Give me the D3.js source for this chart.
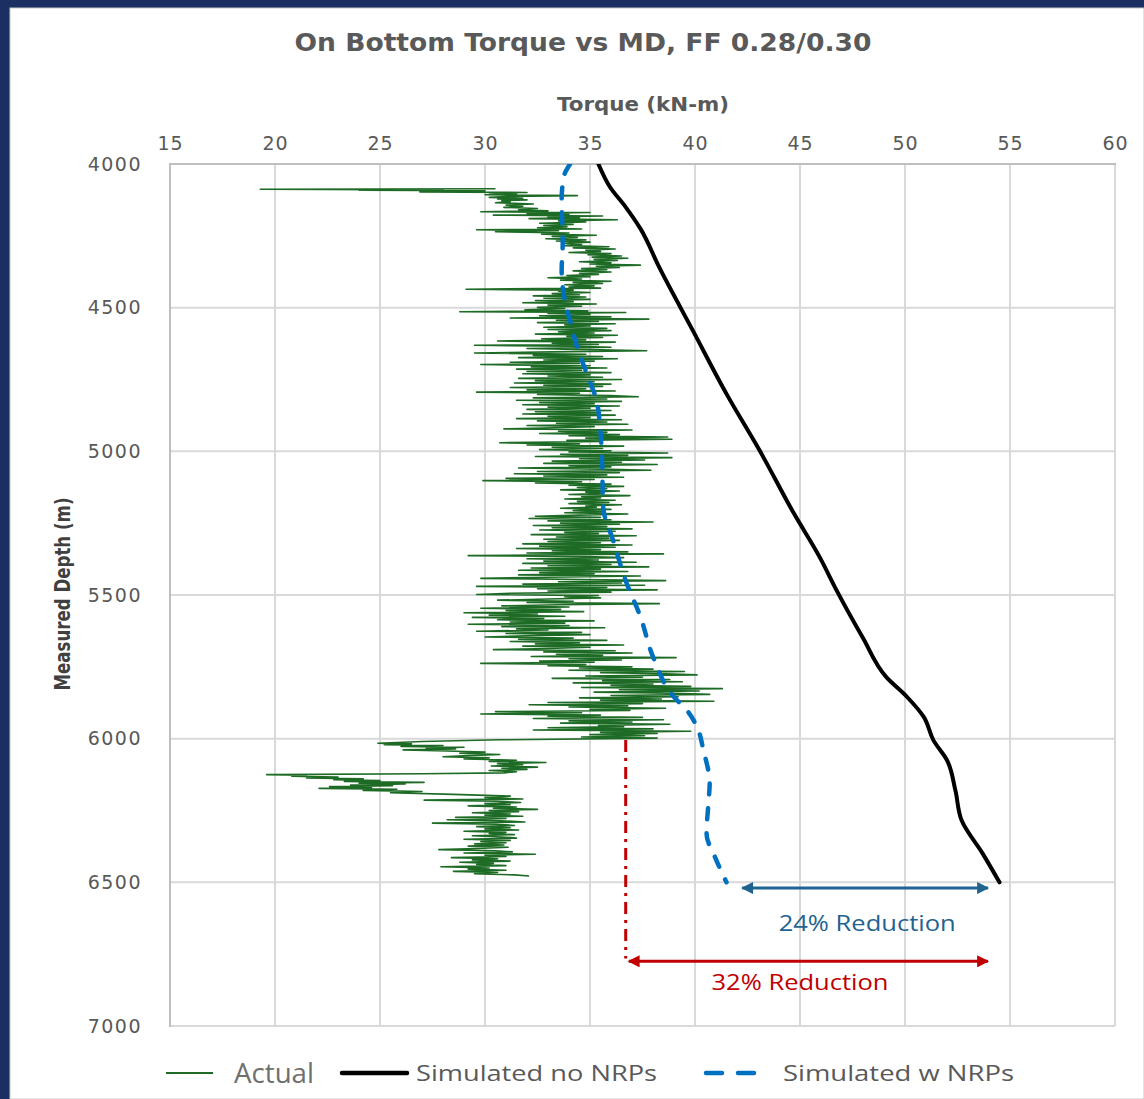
<!DOCTYPE html>
<html><head><meta charset="utf-8">
<script src="https://cdn.jsdelivr.net/npm/d3@7"></script>
<style>
html,body{margin:0;padding:0;background:#1b2f63;}
svg{display:block;}
</style></head>
<body>
<svg id="c" width="1144" height="1099"></svg>
<script>
// ---------- DATA ----------
const chartTitle = "On Bottom Torque vs MD, FF 0.28/0.30";
const xTitle = "Torque (kN-m)";
const yTitle = "Measured Depth (m)";
const xTicks = [15,20,25,30,35,40,45,50,55,60];
const yTicks = [4000,4500,5000,5500,6000,6500,7000];
const seriesNames = ["Actual","Simulated no NRPs","Simulated w NRPs"];

// Simulated no NRPs: [depth m, torque kN-m]
const simNo = [[4000,35.4],[4080,35.95],[4150,36.7],[4225,37.4],[4360,38.3],[4580,39.9],[4800,41.5],[5000,43.1],[5215,44.7],[5370,45.95],[5485,46.75],[5650,48.0],[5785,49.1],[5855,50.1],[5925,50.9],[6005,51.35],[6075,52.0],[6180,52.4],[6285,52.7],[6400,53.7],[6500,54.5]];

// Simulated w NRPs
const simW = [[4000,34.05],[4045,33.75],[4125,33.65],[4275,33.7],[4370,33.65],[4475,33.8],[4545,34.05],[4640,34.4],[4730,34.85],[4820,35.3],[4915,35.48],[5005,35.56],[5195,35.63],[5310,36.1],[5460,36.75],[5575,37.4],[5715,38.0],[5855,39.0],[5900,39.6],[5960,40.1],[6040,40.4],[6155,40.7],[6215,40.65],[6330,40.55],[6420,41.0],[6500,41.5]];

// Actual
const actual = [
[4086,30.5],[4088,19.3],[4090,28.0],[4091,24.0],[4093,30.0],[4095,29.5],[4097,26.9],[4099,32.0],[4101,30.2],[4104,31.5],[4107,30.0],[4110,34.4],[4113,31.0],[4116,30.2],[4119,31.8],[4122,30.6],[4125,32.0],[4128,30.8],
[4131,31.2],[4135,30.5],[4139,32.3],[4143,31.0],[4147,31.8],[4151,30.9],[4155,32.5],[4159,31.6],
[4163,33.0],[4166,29.8],[4169,35.0],[4172,32.0],[4175,34.0],[4178,30.4],[4181,35.6],[4184,33.0],[4187,34.5],[4190,32.1],[4194,36.3],[4198,33.5],[4202,34.8],
[4206,32.6],[4210,34.2],[4214,32.8],[4218,33.9],[4222,32.5],[4226,34.6],[4229,29.6],[4232,33.5],[4236,30.5],[4240,34.0],[4244,32.7],[4248,35.3],[4252,33.2],[4256,34.4],[4260,32.9],[4264,34.8],[4268,33.4],[4272,35.0],[4276,33.8],
[4280,34.6],[4284,33.8],[4288,35.9],[4292,34.2],[4296,36.2],[4300,34.8],[4304,35.5],[4308,34.0],[4312,36.0],[4316,34.9],[4320,36.5],[4324,35.1],[4328,36.8],[4332,35.2],[4336,36.3],[4340,34.5],[4344,36.0],[4348,35.0],[4352,37.4],[4356,35.3],[4360,36.4],[4364,34.6],[4368,35.8],[4372,34.2],[4376,36.0],[4380,34.5],[4384,35.4],[4388,33.9],[4392,35.0],[4396,33.0],
[4400,34.6],[4404,33.6],[4408,36.0],[4412,34.2],[4416,35.6],[4420,33.8],[4424,35.2],[4428,34.0],[4432,35.5],[4436,29.1],[4439,34.2],[4443,33.5],[4447,35.0],[4451,33.2],
[4455,34.5],[4459,32.3],[4463,34.8],[4467,32.8],[4471,35.0],[4475,32.4],[4479,34.2],[4483,31.8],[4487,35.3],[4491,33.0],[4495,34.6],[4499,32.5],[4503,33.8],[4507,31.9],[4511,34.9],[4514,28.8],[4517,36.7],[4520,33.0],
[4524,35.0],[4528,32.6],[4532,36.0],[4536,31.2],[4540,37.8],[4544,33.4],[4548,35.4],[4552,32.5],[4556,36.2],[4560,33.8],[4564,35.0],[4568,32.8],[4572,35.8],[4576,33.0],[4580,36.0],[4584,33.5],[4588,35.2],[4592,32.4],[4596,36.3],[4600,33.9],[4604,35.6],[4608,32.7],[4612,34.8],[4616,30.6],[4620,36.2],[4624,33.2],
[4628,35.4],[4631,29.5],[4634,34.0],[4638,36.0],[4642,32.0],[4646,35.0],[4650,37.7],[4654,33.2],[4658,29.5],[4662,34.8],[4666,32.3],[4670,35.6],[4674,31.6],[4678,36.3],[4682,32.8],[4686,35.2],[4690,31.2],[4694,34.5],[4698,29.8],[4702,35.0],[4706,32.2],[4710,35.8],[4714,31.5],[4718,34.6],[4722,32.0],[4726,36.0],[4730,31.8],[4734,35.0],[4738,33.0],
[4742,35.6],[4746,31.6],[4750,36.5],[4754,32.4],[4758,35.2],[4762,31.4],[4766,36.0],[4770,32.8],[4774,35.6],[4778,31.2],[4782,34.8],[4786,32.0],[4790,36.2],[4794,29.6],[4798,34.5],[4802,32.5],[4806,36.0],[4810,37.3],[4814,32.3],[4818,35.8],[4822,31.5],[4826,36.5],[4830,32.6],[4834,35.2],[4838,31.8],[4842,36.4],[4846,33.0],[4850,35.0],[4854,32.0],
[4858,36.0],[4862,32.4],[4866,35.5],[4870,31.8],[4874,36.2],[4878,33.0],[4882,35.0],[4886,31.5],[4890,36.5],[4894,32.5],[4898,35.8],[4902,33.4],[4906,36.8],[4910,32.0],[4914,35.2],[4918,33.3],[4922,30.9],[4926,37.0],[4930,33.5],[4934,35.8],[4938,32.6],[4942,36.4],[4946,34.0],[4950,38.7],[4954,34.8],[4958,38.9],[4962,33.9],
[4966,35.5],[4970,30.7],[4974,34.5],[4978,32.0],[4982,36.6],[4986,33.2],[4990,35.6],[4994,32.6],[4998,36.0],
[5002,34.0],[5006,38.7],[5010,33.6],[5014,36.8],[5018,32.4],[5022,38.9],[5026,34.5],[5030,37.6],[5034,33.2],[5038,36.5],[5042,32.8],[5046,38.2],[5050,34.0],
[5054,36.0],[5058,31.6],[5062,35.5],[5066,37.9],[5070,32.5],[5074,36.4],[5078,31.4],[5082,35.8],[5086,32.8],[5090,36.6],[5094,31.0],[5098,35.2],[5102,29.9],[5106,34.6],[5110,32.4],
[5114,36.0],[5118,34.0],[5122,36.6],[5126,34.4],[5130,35.8],[5134,33.6],[5138,36.4],[5142,34.8],[5146,35.6],[5150,34.0],[5154,36.9],[5158,34.6],[5162,35.5],[5166,33.8],[5170,36.2],[5174,34.4],[5178,35.9],[5182,34.0],[5186,36.5],[5190,34.8],[5194,35.3],[5198,33.6],[5202,36.0],[5206,34.2],[5210,35.7],[5214,33.8],[5218,36.8],[5222,34.5],[5226,32.4],
[5230,35.5],[5234,32.1],[5238,36.0],[5242,33.0],[5246,38.0],[5250,33.6],[5254,36.4],[5258,32.3],[5262,35.8],[5266,33.2],[5270,37.0],[5274,32.6],[5278,36.2],[5282,33.8],[5286,35.4],[5290,32.2],[5294,37.2],[5298,33.4],[5302,35.9],[5306,32.8],
[5310,36.4],[5314,33.0],[5318,35.5],[5322,31.8],[5326,37.0],[5330,32.6],[5334,36.2],[5338,31.5],[5342,35.5],[5346,33.2],[5350,36.8],[5354,32.0],[5357,38.5],[5360,33.5],[5363,29.2],[5366,34.8],
[5370,36.6],[5374,32.0],[5378,35.4],[5382,32.8],[5386,37.2],[5390,31.8],[5394,36.0],[5398,33.0],[5402,37.8],[5406,32.2],[5410,35.5],[5414,31.6],[5418,36.8],[5422,32.6],[5426,35.2],[5430,31.6],[5434,37.4],[5438,33.0],[5442,29.8],[5446,34.6],
[5450,38.6],[5454,33.5],[5458,36.5],[5462,31.8],[5466,37.6],[5470,29.6],[5474,35.8],[5478,32.5],[5482,38.2],[5486,33.0],[5490,36.0],[5494,31.2],[5498,29.6],[5502,35.4],[5506,33.8],
[5510,35.5],[5514,33.0],[5518,30.6],[5522,34.2],[5526,32.0],[5530,38.3],[5534,33.5],[5538,30.8],[5542,34.0],[5546,29.8],[5550,33.6],[5554,31.0],[5558,34.7],[5562,29.0],[5566,32.5],[5570,30.2],[5574,33.8],
[5578,29.4],[5582,32.8],[5586,30.6],[5590,35.2],[5594,31.2],[5598,33.8],[5602,29.2],[5606,34.0],[5610,30.8],[5614,35.7],[5618,31.5],[5622,33.0],[5626,29.6],[5630,34.6],[5634,31.0],[5638,35.0],[5642,32.0],[5646,30.0],[5650,34.2],[5654,31.6],
[5658,35.8],[5662,31.2],[5666,34.5],[5670,32.4],[5674,36.6],[5678,31.8],[5682,35.0],[5686,33.0],[5690,30.4],[5694,36.2],[5698,32.8],[5702,37.0],[5706,33.4],[5710,35.6],[5714,32.2],[5718,39.1],[5722,34.0],[5726,36.5],[5730,32.6],[5734,35.2],[5738,29.8],[5742,34.8],[5746,33.0],[5750,37.0],
[5754,34.5],[5758,38.0],[5762,34.0],[5766,39.5],[5770,35.5],[5774,38.6],[5778,40.1],[5782,34.8],[5786,37.5],[5790,33.2],[5794,38.8],[5798,35.6],[5802,39.4],[5806,34.2],[5810,38.0],[5814,36.0],[5818,39.8],[5822,34.6],[5826,41.3],[5830,36.4],[5834,40.2],[5838,35.2],[5842,39.0],
[5846,40.7],[5850,36.0],[5854,39.2],[5858,34.5],[5862,38.4],[5866,35.5],[5870,40.9],[5874,33.0],[5878,37.5],[5882,32.1],[5886,36.8],[5890,34.0],[5894,38.6],[5898,35.0],[5902,36.9],[5906,30.5],[5910,34.6],[5914,29.8],[5918,35.5],[5922,33.0],
[5926,37.5],[5930,32.3],[5934,38.5],[5938,34.0],[5942,37.0],[5946,33.6],[5950,38.8],[5954,35.4],[5958,36.6],[5962,33.0],[5966,38.0],[5970,32.3],[5974,39.8],[5978,35.5],[5982,38.2],[5986,35.0],[5990,37.6],[5994,34.6],[5998,38.2],
[6004,30.7],[6010,27.0],[6016,24.9],[6018,26.5],
[6021,25.2],[6024,28.0],[6027,26.0],[6030,29.0],[6033,27.2],[6036,28.6],[6039,26.1],
[6043,28.2],[6047,30.0],[6051,28.8],[6055,30.7],[6059,29.2],[6063,28.0],[6067,30.2],[6071,29.0],[6075,31.5],[6079,30.2],[6083,32.9],[6087,30.6],[6091,31.8],[6095,30.3],[6099,32.5],[6103,30.8],[6107,32.0],[6111,30.2],[6115,31.5],[6119,30.9],
[6122,27.0],[6125,19.6],[6128,21.5],
[6131,20.8],[6134,23.0],[6137,21.5],[6140,24.2],[6143,22.8],[6146,25.0],[6149,23.3],[6152,27.1],[6155,24.0],[6158,26.2],[6161,23.6],[6164,25.6],[6167,22.6],[6170,24.6],[6173,22.1],[6176,25.8],[6180,24.2],[6184,27.0],
[6188,25.5],[6194,28.5],[6200,31.2],[6205,30.0],[6210,31.8],
[6214,27.1],[6218,30.6],[6222,31.7],[6226,30.0],[6230,31.2],[6234,29.2],[6238,31.5],[6242,30.4],[6246,32.5],[6250,30.2],[6254,31.6],[6258,29.4],[6262,31.2],[6266,30.0],[6270,31.8],[6274,28.6],[6278,31.0],[6282,28.2],[6286,30.8],[6290,31.9],[6294,27.5],[6298,30.5],[6302,31.4],[6306,29.6],[6310,31.2],[6314,30.0],[6318,31.6],[6322,29.0],[6326,31.0],[6330,30.2],[6334,31.4],[6338,29.4],[6342,30.8],[6346,31.5],[6350,29.0],[6354,31.2],[6358,29.8],[6362,31.0],[6366,29.5],[6370,30.9],[6374,29.2],[6378,31.1],[6382,29.6],[6386,27.8],[6390,30.5],[6394,31.3],[6398,29.0],[6402,32.4],[6406,30.0],[6410,31.0],[6414,28.4],[6418,30.6],[6422,29.4],[6426,31.2],[6430,28.8],[6434,30.4],[6438,29.6],[6442,31.0],[6446,27.9],[6450,30.2],[6454,29.2],[6458,31.0],[6462,28.5],[6466,30.6],[6470,29.5],[6474,31.4],[6478,32.1]
];

// Annotations (data units)
const blueArrow = {t0:42.25, t1:53.95, d:6520, label:"24% Reduction", lt:48.2, ld:6668};
const redArrow = {t0:36.85, t1:53.95, d:6775, label:"32% Reduction", lt:45.0, ld:6875};
const redDrop = {t:36.7, d0:6005, d1:6765};

// ---------- DRAWING ----------
const svg = d3.select("#c");
const W = 1144, H = 1099;
const x = d3.scaleLinear().domain([15,60]).range([170,1115]);
const y = d3.scaleLinear().domain([4000,7000]).range([164,1026]);
const gray = "#595959";
const tickFont = "'DejaVu Sans', Verdana, sans-serif";

svg.append("rect").attr("x",0).attr("y",0).attr("width",W).attr("height",H).attr("fill","#1b2f63");
svg.append("rect").attr("x",10).attr("y",8).attr("width",W-10).attr("height",H-8).attr("fill","#ffffff").attr("stroke","#c8c8c8").attr("stroke-width",1);

// gridlines
const grid = svg.append("g");
grid.selectAll("line.v").data(xTicks).join("line")
  .attr("x1",d=>x(d)).attr("x2",d=>x(d)).attr("y1",y(4000)).attr("y2",y(7000))
  .attr("stroke","#d9d9d9").attr("stroke-width",2);
grid.selectAll("line.h").data(yTicks).join("line")
  .attr("y1",d=>y(d)).attr("y2",d=>y(d)).attr("x1",x(15)).attr("x2",x(60))
  .attr("stroke","#d9d9d9").attr("stroke-width",2);
// frame left/top
svg.append("line").attr("x1",x(15)).attr("x2",x(15)).attr("y1",y(4000)-1).attr("y2",y(7000)+1).attr("stroke","#bfbfbf").attr("stroke-width",2);
svg.append("line").attr("x1",x(15)-1).attr("x2",x(60)+1).attr("y1",y(4000)).attr("y2",y(4000)).attr("stroke","#bfbfbf").attr("stroke-width",2);

// axes (top and left), via d3 axes
const xAxis = d3.axisTop(x).tickValues(xTicks).tickSize(0).tickPadding(14).tickFormat(d3.format("d"));
const gx = svg.append("g").attr("transform",`translate(0,${y(4000)})`).call(xAxis);
gx.select(".domain").remove();
gx.selectAll("text").attr("fill",gray).style("font-family",tickFont).style("font-size","19px").style("letter-spacing","1px");

const yAxis = d3.axisLeft(y).tickValues(yTicks).tickSize(0).tickPadding(28).tickFormat(d3.format("d"));
const gy = svg.append("g").attr("transform",`translate(${x(15)},0)`).call(yAxis);
gy.select(".domain").remove();
gy.selectAll("text").attr("fill",gray).style("font-family",tickFont).style("font-size","19px").style("letter-spacing","1.5px");

// titles
svg.append("text").attr("x",583).attr("y",51).attr("text-anchor","middle")
  .attr("fill",gray).style("font-family",tickFont).style("font-weight","bold").style("font-size","25px")
  .attr("textLength",577).attr("lengthAdjust","spacingAndGlyphs").text(chartTitle);
svg.append("text").attr("x",643).attr("y",111).attr("text-anchor","middle")
  .attr("fill",gray).style("font-family",tickFont).style("font-weight","bold").style("font-size","19px")
  .attr("textLength",172).attr("lengthAdjust","spacingAndGlyphs").text(xTitle);
svg.append("text").attr("transform","translate(70,594) rotate(-90)").attr("text-anchor","middle")
  .attr("fill","#404040").style("font-family","'Liberation Sans Narrow','DejaVu Sans Condensed',sans-serif").style("font-weight","bold").style("font-size","22px")
  .attr("textLength",193).attr("lengthAdjust","spacingAndGlyphs").text(yTitle);

// clip to plot
svg.append("clipPath").attr("id","pc").append("rect").attr("x",x(15)).attr("y",y(4000)).attr("width",x(60)-x(15)).attr("height",y(7000)-y(4000));

const line = d3.line().x(d=>x(d[1])).y(d=>y(d[0]));
const plot = svg.append("g").attr("clip-path","url(#pc)");
plot.append("path").datum(actual).attr("d",line).attr("fill","none").attr("stroke","#1e6b26").attr("stroke-width",1.6).attr("stroke-linejoin","round");
const smooth = d3.line().x(d=>x(d[1])).y(d=>y(d[0])).curve(d3.curveMonotoneY);
plot.append("path").datum(simNo).attr("d",smooth).attr("fill","none").attr("stroke","#000").attr("stroke-width",4).attr("stroke-linecap","round");
plot.append("path").datum(simW).attr("d",smooth).attr("fill","none").attr("stroke","#0070c0").attr("stroke-width",4.5).attr("stroke-dasharray","11 14").attr("stroke-linecap","round");

// arrow markers
function marker(id,color){
  svg.append("defs").append("marker").attr("id",id).attr("viewBox","0 0 10 10").attr("refX",9).attr("refY",5)
    .attr("markerWidth",16).attr("markerHeight",12).attr("markerUnits","userSpaceOnUse").attr("orient","auto-start-reverse")
    .append("path").attr("d","M0,0 L10,5 L0,10 Z").attr("fill",color);
}
marker("ab","#1f6391"); marker("ar","#c00000");

svg.append("line").attr("x1",x(blueArrow.t0)).attr("x2",x(blueArrow.t1)).attr("y1",y(blueArrow.d)).attr("y2",y(blueArrow.d))
  .attr("stroke","#1f6391").attr("stroke-width",3).attr("marker-start","url(#ab)").attr("marker-end","url(#ab)");
svg.append("text").attr("x",x(blueArrow.lt)).attr("y",y(blueArrow.ld)).attr("text-anchor","middle").attr("fill","#1f6391")
  .style("font-family","'Open Sans',sans-serif").style("font-size","21px").attr("textLength",177).attr("lengthAdjust","spacingAndGlyphs").text(blueArrow.label);

svg.append("line").attr("x1",x(redDrop.t)).attr("x2",x(redDrop.t)).attr("y1",y(redDrop.d0)).attr("y2",y(redDrop.d1))
  .attr("stroke","#c00000").attr("stroke-width",3).attr("stroke-dasharray","12 6 3 6");
svg.append("line").attr("x1",x(redArrow.t0)).attr("x2",x(redArrow.t1)).attr("y1",y(redArrow.d)).attr("y2",y(redArrow.d))
  .attr("stroke","#c00000").attr("stroke-width",3).attr("marker-start","url(#ar)").attr("marker-end","url(#ar)");
svg.append("text").attr("x",x(redArrow.lt)).attr("y",y(redArrow.ld)).attr("text-anchor","middle").attr("fill","#c00000")
  .style("font-family","'Open Sans',sans-serif").style("font-size","21px").attr("textLength",177).attr("lengthAdjust","spacingAndGlyphs").text(redArrow.label);

// legend
const lg = svg.append("g");
const ly = 1073;
lg.append("line").attr("x1",166).attr("x2",213).attr("y1",ly).attr("y2",ly).attr("stroke","#1e6b26").attr("stroke-width",2);
lg.append("text").attr("x",234).attr("y",ly+10).attr("fill","#6f6f6f").style("font-family","'Open Sans',sans-serif").style("font-size","27px")
  .attr("textLength",80).attr("lengthAdjust","spacingAndGlyphs").text(seriesNames[0]);
lg.append("line").attr("x1",342).attr("x2",407).attr("y1",ly).attr("y2",ly).attr("stroke","#000").attr("stroke-width",4.5).attr("stroke-linecap","round");
lg.append("text").attr("x",416).attr("y",ly+8).attr("fill",gray).style("font-family","'Open Sans',sans-serif").style("font-size","22px")
  .attr("textLength",241).attr("lengthAdjust","spacingAndGlyphs").text(seriesNames[1]);
lg.append("line").attr("x1",706).attr("x2",758).attr("y1",ly).attr("y2",ly).attr("stroke","#0070c0").attr("stroke-width",4.5).attr("stroke-dasharray","16 16").attr("stroke-linecap","round").attr("transform","translate(0,0)");
lg.append("text").attr("x",783).attr("y",ly+8).attr("fill",gray).style("font-family","'Open Sans',sans-serif").style("font-size","22px")
  .attr("textLength",231).attr("lengthAdjust","spacingAndGlyphs").text(seriesNames[2]);
</script>
</body></html>
